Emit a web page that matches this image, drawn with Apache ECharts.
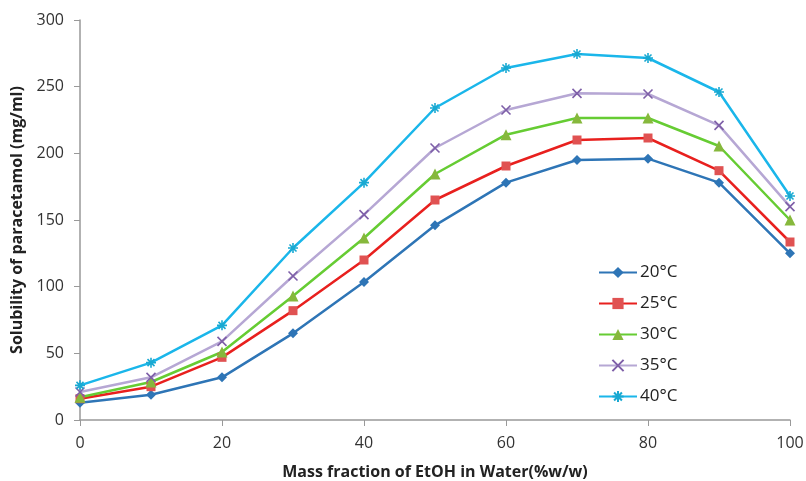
<html>
<head>
<meta charset="utf-8">
<script src="https://cdn.jsdelivr.net/npm/echarts@6/dist/echarts.min.js"></script>
<style>
html, body { margin: 0; padding: 0; background: #fff; }
#main { width: 806px; height: 481px; }
</style>
</head>
<body>
<div id="main"></div>
<script>
var fractions = [0, 10, 20, 30, 40, 50, 60, 70, 80, 90, 100];
var names = ['20°C', '25°C', '30°C', '35°C', '40°C'];
var t20 = [13, 19, 32, 65, 103.5, 146, 178, 195, 196, 178, 125];
var t25 = [16, 25, 47, 82, 120, 165, 190.5, 210, 211.5, 187, 133.5];
var t30 = [17, 28.5, 51, 93, 136.5, 184.5, 214, 226.5, 226.5, 205.5, 150];
var t35 = [21, 32, 59, 108, 154, 204, 232.5, 245, 244.5, 221, 160];
var t40 = [26, 43, 71, 129, 178, 234, 264, 274.5, 271.5, 246, 168];

var chart = echarts.init(document.getElementById('main'));

function pairs(vals) {
    return fractions.map(function (x, i) { return [x, vals[i]]; });
}

var crossPath = 'path://M0,0L10,10M10,0L0,10';
var starPath = 'path://M5,0L5,10M0,5L10,5M1.5,1.5L8.5,8.5M8.5,1.5L1.5,8.5';

function series(name, vals, lineColor, markColor, symbol, size, stroke) {
    return {
        name: name,
        type: 'line',
        data: pairs(vals),
        symbol: symbol,
        symbolSize: size,
        showAllSymbol: true,
        lineStyle: { color: lineColor, width: 2.5 },
        itemStyle: stroke
            ? { color: markColor, borderColor: markColor, borderWidth: 1.6 }
            : { color: markColor, borderWidth: 0 },
        emphasis: { disabled: true }
    };
}

chart.setOption({
    animation: false,
    textStyle: { fontFamily: 'Open Sans' },
    grid: { left: 80, right: 16, top: 20, bottom: 61, outerBoundsMode: 'none' },
    legend: {
        orient: 'vertical',
        left: 593,
        top: 259,
        itemGap: 14,
        itemWidth: 38,
        itemHeight: 14,
        textStyle: { fontSize: 17, color: '#222', fontFamily: 'Open Sans', padding: [0, 0, 0, -2] },
        data: names
    },
    xAxis: {
        type: 'value',
        min: 0,
        max: 100,
        interval: 20,
        name: 'Mass fraction of EtOH in Water(%w/w)',
        nameLocation: 'middle',
        nameGap: 44,
        nameTextStyle: { fontSize: 16, fontWeight: 'bold', color: '#222' },
        axisLine: { lineStyle: { color: '#999', width: 1.5 } },
        axisTick: { show: true, length: 6, lineStyle: { color: '#999' } },
        axisLabel: { fontSize: 16, color: '#333', margin: 15 },
        splitLine: { show: false }
    },
    yAxis: {
        type: 'value',
        min: 0,
        max: 300,
        interval: 50,
        name: 'Solubility of paracetamol (mg/ml)',
        nameLocation: 'middle',
        nameGap: 54,
        nameTextStyle: { fontSize: 16, fontWeight: 'bold', color: '#222' },
        axisLine: { show: true, lineStyle: { color: '#999', width: 1.5 } },
        axisTick: { show: true, length: 6, lineStyle: { color: '#999' } },
        axisLabel: { fontSize: 16, color: '#333', margin: 16 },
        splitLine: { show: false }
    },
    series: [
        series(names[0], t20, '#2e75b6', '#2e75b6', 'diamond', 10, false),
        series(names[1], t25, '#e8201e', '#e05252', 'rect', 9, false),
        series(names[2], t30, '#66cc33', '#86b83c', 'triangle', 11, false),
        series(names[3], t35, '#b6a7d4', '#7e5fa8', crossPath, 9, true),
        series(names[4], t40, '#1ab6ea', '#19a9d2', starPath, 10, true)
    ]
});
</script>
</body>
</html>
